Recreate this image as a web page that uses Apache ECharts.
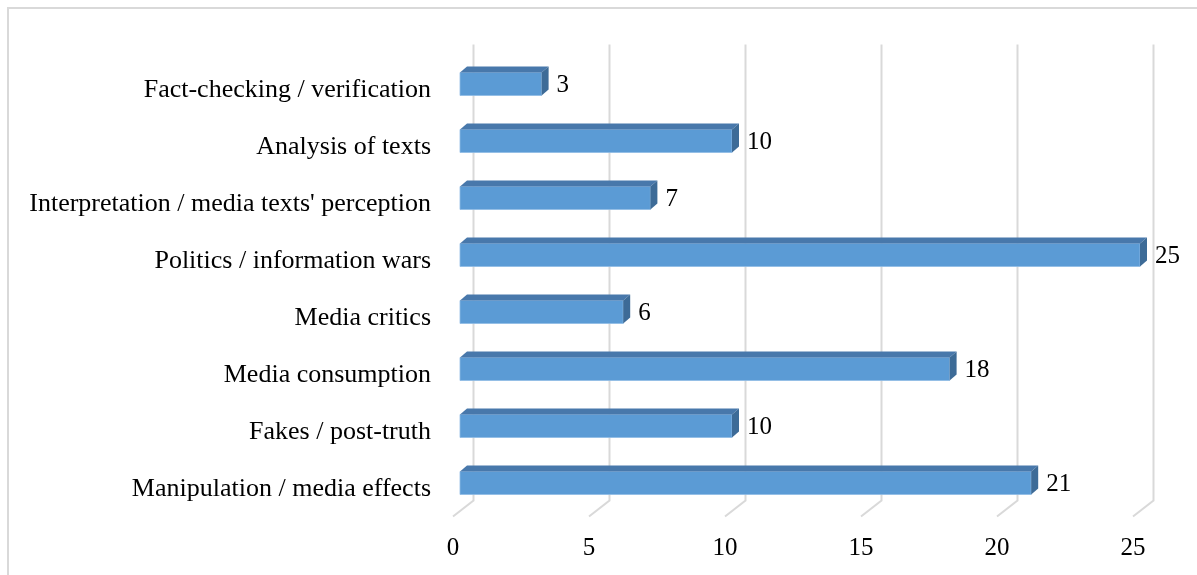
<!DOCTYPE html>
<html>
<head>
<meta charset="utf-8">
<script src="https://cdn.jsdelivr.net/npm/echarts@6/dist/echarts.min.js"></script>
<style>
  html, body { margin: 0; padding: 0; background: #fff; }
  #chart { width: 1197px; height: 575px; }
</style>
</head>
<body>
<div id="chart"></div>
<script>
// Topics, listed from top to bottom
const categories = [
  'Fact-checking / verification',
  'Analysis of texts',
  "Interpretation / media texts' perception",
  'Politics / information wars',
  'Media critics',
  'Media consumption',
  'Fakes / post-truth',
  'Manipulation / media effects'
];
// Number of publications per topic
const counts = [3, 10, 7, 25, 6, 18, 10, 21];
// Value-axis ticks
const tickValues = [0, 5, 10, 15, 20, 25];

const FONT = "'Liberation Serif', 'Times New Roman', serif";
const NUM_SIZE = 25;
const CAT_SIZE = 26;
const FRONT = '#5b9bd5';
const TOP = '#4878ab';
const SIDE = '#3d6b97';
const GRID_COLOR = '#d9d9d9';

// 3D depth of a bar (pixels) and of the back wall behind the bars
const DEPTH_X = 7, DEPTH_Y = 6;
const WALL_X = 13.5;
const FLOOR_FRONT_X = -7;

const chart = echarts.init(document.getElementById('chart'), null, { renderer: 'canvas' });

function renderGridLine(params, api) {
  const v = api.value(0);
  const x = api.coord([v, 0])[0];
  const cs = params.coordSys;
  const top = cs.y - 11;
  const floorBack = cs.y + cs.height - 11;
  const floorFront = cs.y + cs.height + 5;
  return {
    type: 'polyline',
    shape: {
      points: [
        [x + WALL_X, top],
        [x + WALL_X, floorBack],
        [x + FLOOR_FRONT_X, floorFront]
      ]
    },
    style: { stroke: GRID_COLOR, lineWidth: 2, fill: null },
    silent: true
  };
}

function renderBar(params, api) {
  const v = api.value(0);
  const idx = api.value(1);
  const start = api.coord([0, idx]);
  const end = api.coord([v, idx]);
  const x0 = start[0], x1 = end[0], yc = start[1];
  const h = 23;
  const yt = yc - h / 2, yb = yc + h / 2;
  return {
    type: 'group',
    children: [
      {
        type: 'rect',
        shape: { x: x0, y: yt, width: x1 - x0, height: h },
        style: { fill: FRONT, stroke: '#8fbbe4', lineWidth: 0.8 }
      },
      {
        type: 'polygon',
        shape: { points: [[x0, yt], [x0 + DEPTH_X, yt - DEPTH_Y], [x1 + DEPTH_X, yt - DEPTH_Y], [x1, yt]] },
        style: { fill: TOP }
      },
      {
        type: 'polygon',
        shape: { points: [[x1, yt], [x1 + DEPTH_X, yt - DEPTH_Y], [x1 + DEPTH_X, yb - DEPTH_Y], [x1, yb]] },
        style: { fill: SIDE }
      },
      {
        type: 'text',
        style: {
          x: x1 + DEPTH_X + 8,
          y: yc + 1,
          text: String(v),
          fill: '#000',
          font: NUM_SIZE + 'px ' + FONT,
          align: 'left',
          verticalAlign: 'middle'
        }
      }
    ]
  };
}

const option = {
  backgroundColor: '#fff',
  animation: false,
  graphic: [{
    type: 'rect',
    shape: { x: 8, y: 8, width: 1300, height: 700 },
    style: { fill: null, stroke: GRID_COLOR, lineWidth: 2 },
    silent: true,
    z: 0
  }],
  grid: { left: 460, right: 57, top: 55.5, bottom: 63.5, containLabel: false },
  xAxis: {
    type: 'value',
    min: 0,
    max: 25,
    interval: 5,
    axisLine: { show: false },
    axisTick: { show: false },
    splitLine: { show: false },
    axisLabel: {
      margin: 24,
      fontFamily: FONT,
      fontSize: NUM_SIZE,
      color: '#000',
      padding: [0, 14, 0, 0]
    }
  },
  yAxis: {
    type: 'category',
    data: categories,
    inverse: true,
    axisLine: { show: false },
    axisTick: { show: false },
    splitLine: { show: false },
    axisLabel: {
      margin: 29,
      fontFamily: FONT,
      fontSize: CAT_SIZE,
      color: '#000',
      verticalAlign: 'top',
      lineHeight: 13
    }
  },
  series: [
    {
      type: 'custom',
      name: 'grid',
      renderItem: renderGridLine,
      data: tickValues.map(v => [v]),
      encode: { x: 0 },
      z: 1,
      silent: true
    },
    {
      type: 'custom',
      name: 'Publications',
      renderItem: renderBar,
      data: counts.map((c, i) => [c, i]),
      encode: { x: 0, y: 1 },
      z: 2
    }
  ]
};

chart.setOption(option);
</script>
</body>
</html>
